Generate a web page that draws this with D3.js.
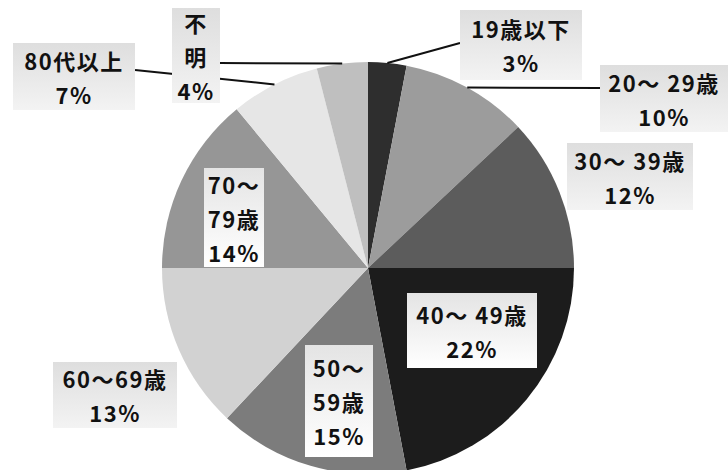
<!DOCTYPE html>
<html>
<head>
<meta charset="utf-8">
<script src="https://cdn.jsdelivr.net/npm/d3@7"></script>
<style>
  body { margin: 0; background: #fff; }
  svg { display: block; }
  text { font-family: "Noto Sans CJK JP", sans-serif; font-weight: 700; fill: #111; }
</style>
</head>
<body>
<div id="viz"></div>
<script>
// age groups, clockwise from 12 o'clock
var categories = ['19歳以下', '20〜29歳', '30〜39歳', '40〜49歳', '50〜59歳', '60〜69歳', '70〜79歳', '80代以上', '不明'];
var shares = [3, 10, 12, 22, 15, 13, 14, 7, 4];
// how each label is broken into lines in the picture
var labelLines = [
  ['19歳以下'], ['20〜 29歳'], ['30〜 39歳'], ['40〜 49歳'],
  ['50〜', '59歳'], ['60〜69歳'], ['70〜', '79歳'], ['80代以上'], ['不', '明']
];
var greys = ['#2e2e2e', '#9c9c9c', '#5c5c5c', '#1c1c1c', '#7c7c7c', '#d2d2d2', '#969696', '#e6e6e6', '#bfbfbf'];

var width = 728,
    height = 470,
    cx = 368,
    cy = 268,
    radius = 206,
    lineH = 34;

// label boxes: [left, top, right, bottom], leader y (null = no leader)
var boxes = [
  [460, 10, 582, 80, 43],
  [600, 65, 728, 132, 88],
  [567, 143, 693, 210, null],
  [407, 293, 537, 368, null],
  [305, 345, 373, 457, null],
  [53, 362, 177, 428, null],
  [204, 168, 264, 267, null],
  [13, 43, 135, 110, 70],
  [172, 8, 220, 103, 63]
];

var pie = d3.pie().sort(null).value(function(d) { return d; });
var arcs = pie(shares);

var arc = d3.arc().innerRadius(0).outerRadius(radius);
var edge = d3.arc().innerRadius(radius).outerRadius(radius);

var svg = d3.select('#viz').append('svg')
    .attr('width', width)
    .attr('height', height);

var defs = svg.append('defs');
var grad = defs.append('linearGradient').attr('id', 'boxfill')
    .attr('x1', 0).attr('y1', 0).attr('x2', 0).attr('y2', 1);
grad.append('stop').attr('offset', 0).attr('stop-color', '#dedede');
grad.append('stop').attr('offset', 1).attr('stop-color', '#f3f3f3');
var grad2 = defs.append('linearGradient').attr('id', 'boxfill2')
    .attr('x1', 0).attr('y1', 0).attr('x2', 0).attr('y2', 1);
grad2.append('stop').attr('offset', 0).attr('stop-color', '#e4e4e4');
grad2.append('stop').attr('offset', 1).attr('stop-color', '#ffffff');

var g = svg.append('g')
    .attr('transform', 'translate(' + cx + ',' + cy + ')');

g.selectAll('path.slice').data(arcs)
  .enter().append('path')
    .attr('class', 'slice')
    .attr('d', arc)
    .style('fill', function(d, i) { return greys[i]; });

// leader lines from the box side to the middle of the slice's rim
svg.selectAll('line.leader').data(arcs.filter(function(d, i) { return boxes[i][4] != null; }))
  .enter().append('line')
    .attr('class', 'leader')
    .attr('x1', function(d) {
      var b = boxes[d.index];
      return (b[0] + b[2]) / 2 > cx ? b[0] : b[2];
    })
    .attr('y1', function(d) { return boxes[d.index][4]; })
    .attr('x2', function(d) { return cx + edge.centroid(d)[0]; })
    .attr('y2', function(d) { return cy + edge.centroid(d)[1]; })
    .style('stroke', '#111')
    .style('stroke-width', 2);

var labels = svg.selectAll('g.label').data(arcs)
  .enter().append('g')
    .attr('class', 'label');

labels.append('rect')
    .attr('x', function(d) { return boxes[d.index][0]; })
    .attr('y', function(d) { return boxes[d.index][1]; })
    .attr('width', function(d) { return boxes[d.index][2] - boxes[d.index][0]; })
    .attr('height', function(d) { return boxes[d.index][3] - boxes[d.index][1]; })
    .style('fill', function(d) {
      var b = boxes[d.index];
      var dx = (b[0] + b[2]) / 2 - cx, dy = (b[1] + b[3]) / 2 - cy;
      return Math.sqrt(dx * dx + dy * dy) < radius ? 'url(#boxfill2)' : 'url(#boxfill)';
    });

labels.each(function(d) {
  var b = boxes[d.index];
  var rows = labelLines[d.index].concat([Math.round(d.value) + '%']);
  var midX = (b[0] + b[2]) / 2,
      midY = (b[1] + b[3]) / 2,
      top = midY - (rows.length - 1) * lineH / 2;
  d3.select(this).selectAll('text').data(rows)
    .enter().append('text')
      .attr('x', midX)
      .attr('y', function(t, k) { return top + k * lineH; })
      .attr('text-anchor', 'middle')
      .attr('dominant-baseline', 'central')
      .style('font-size', '22px')
      .style('letter-spacing', '1.5px')
      .text(function(t) { return t; });
});
</script>
</body>
</html>
